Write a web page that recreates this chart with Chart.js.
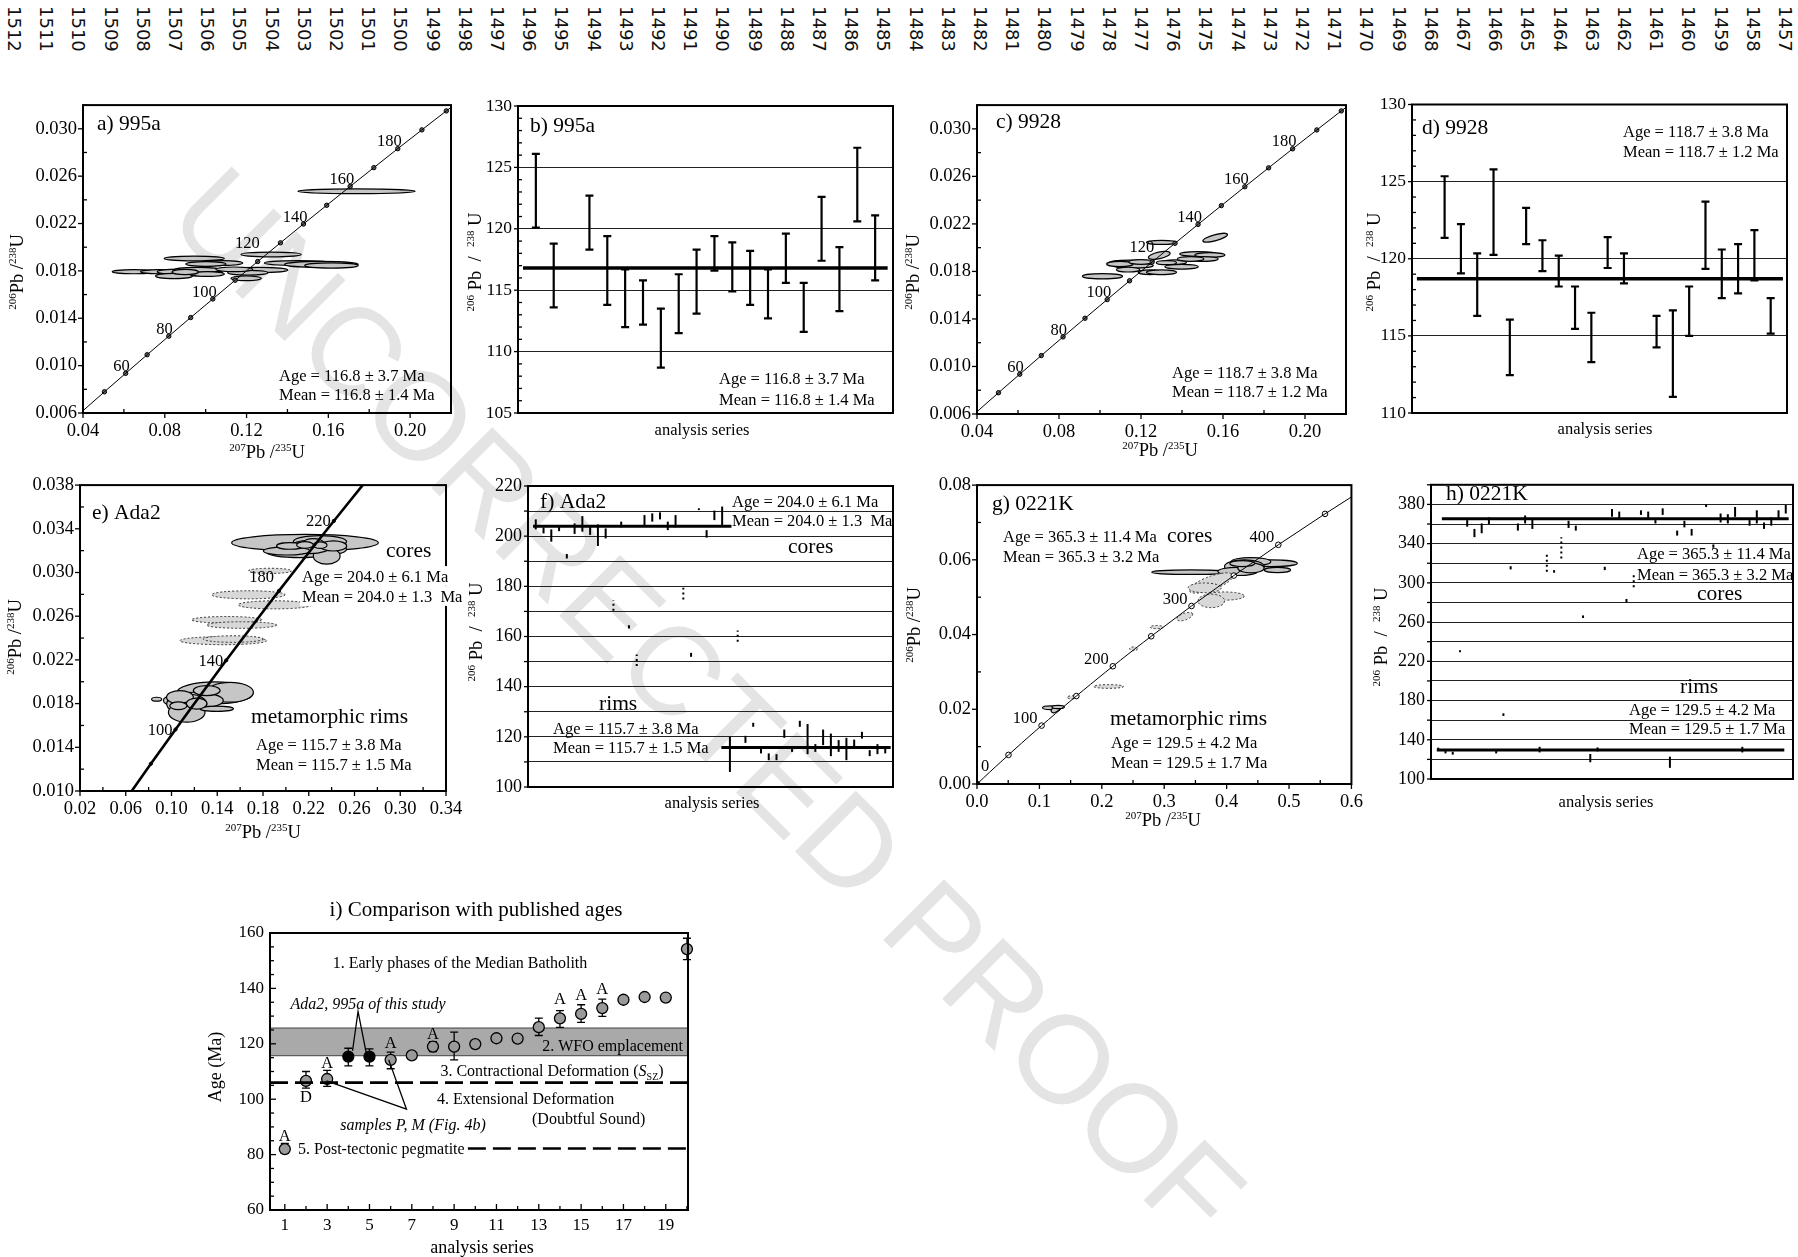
<!DOCTYPE html>
<html>
<head>
<meta charset="utf-8">
<title>U-Pb concordia and age panels</title>
<script src="https://cdn.jsdelivr.net/npm/chart.js@4.4.1/dist/chart.umd.min.js"></script>
<style>
  body { margin: 0; background: #fff; }
  #page { position: relative; width: 1798px; height: 1257px; overflow: hidden; background: #fff; }
  #page canvas { position: absolute; }
  .pnum { position: absolute; top: 6px; writing-mode: vertical-rl; font: 18px "DejaVu Sans", sans-serif; color: #111; line-height: 1; }
  #wm { position: absolute; left: 708px; top: 703px; transform: translate(-50%, -50%) rotate(45deg);
        font: 125px "Liberation Sans", sans-serif; color: #e4e4e4; white-space: nowrap; line-height: 1; }
</style>
</head>
<body>
<div id="page"><div id="wm">UNCORRECTED PROOF</div></div>
<script>
// concordia reference points: age (Ma), 207Pb/235U, 206Pb/238U
const concAge = [0, 10, 20, 30, 40, 50, 60, 70, 80, 90, 100, 110, 120, 130, 140, 150, 160, 170, 180, 190, 200, 210, 220, 230, 240, 250, 300, 350, 400, 450, 480];
const conc207 = [0, 0.00990, 0.01989, 0.02999, 0.04018, 0.05048, 0.06087, 0.07137, 0.08197, 0.09268, 0.10350, 0.11442, 0.12545, 0.13659, 0.14784, 0.15920, 0.17067, 0.18226, 0.19396, 0.20577, 0.21771, 0.22976, 0.24193, 0.25422, 0.26664, 0.27917, 0.34374, 0.41156, 0.48281, 0.55766, 0.60436];
const conc206 = [0, 0.00155, 0.00311, 0.00466, 0.00622, 0.00779, 0.00935, 0.01092, 0.01249, 0.01406, 0.01563, 0.01721, 0.01879, 0.02037, 0.02196, 0.02354, 0.02513, 0.02672, 0.02832, 0.02991, 0.03151, 0.03311, 0.03472, 0.03632, 0.03793, 0.03954, 0.04764, 0.05579, 0.06402, 0.07230, 0.07730];

// error ellipses: [207/235, 206/238, half-width, half-height, tilt deg]
const ell995a = [
  [0.1738, 0.02472, 0.0287, 0.0002], [0.0944, 0.01905, 0.0147, 0.0002], [0.1320, 0.01939, 0.0147, 0.0002],
  [0.1083, 0.01866, 0.0098, 0.0002], [0.1001, 0.01858, 0.0098, 0.0002], [0.1451, 0.01866, 0.0164, 0.0002],
  [0.1566, 0.01855, 0.0180, 0.00025], [0.1615, 0.01846, 0.0131, 0.00022], [0.0649, 0.01793, 0.0106, 0.00017],
  [0.0772, 0.01793, 0.0090, 0.00017], [0.0878, 0.01793, 0.0115, 0.00022], [0.0976, 0.01785, 0.0106, 0.00028],
  [0.0960, 0.01807, 0.0115, 0.00022], [0.0845, 0.01757, 0.0090, 0.00022], [0.1255, 0.01807, 0.0147, 0.00022],
  [0.1206, 0.01785, 0.0098, 0.0002], [0.1140, 0.01813, 0.0090, 0.0002], [0.1198, 0.01737, 0.0074, 0.0002],
  [0.1009, 0.01773, 0.0082, 0.0002], [0.0900, 0.01790, 0.0065, 0.00022]
];
const ell9928 = [
  [0.1012, 0.01759, 0.0098, 0.00022], [0.1300, 0.02044, 0.0073, 0.00017], [0.1289, 0.01935, 0.0054, 0.00028, -12],
  [0.1562, 0.02084, 0.0062, 0.00025, -15], [0.1145, 0.01874, 0.0098, 0.00022], [0.1162, 0.01849, 0.0098, 0.00022],
  [0.1137, 0.01815, 0.0057, 0.0002], [0.1243, 0.01793, 0.0057, 0.0002], [0.1300, 0.01793, 0.0073, 0.0002],
  [0.1365, 0.01877, 0.0057, 0.0002], [0.1398, 0.01840, 0.0081, 0.0002], [0.1479, 0.01947, 0.0090, 0.0002],
  [0.1536, 0.01938, 0.0073, 0.0002], [0.1503, 0.01905, 0.0073, 0.0002], [0.1442, 0.01905, 0.0065, 0.0002],
  [0.1324, 0.01874, 0.0049, 0.00017], [0.1097, 0.01863, 0.0065, 0.00022], [0.1200, 0.01880, 0.0060, 0.0002]
];
const ellAda2Cores = [
  [0.2167, 0.03273, 0.0641, 0.00076], [0.2298, 0.03283, 0.0233, 0.00055], [0.2269, 0.03213, 0.0262, 0.00061],
  [0.2124, 0.03182, 0.0291, 0.00046], [0.2357, 0.03152, 0.0117, 0.00076], [0.2211, 0.03234, 0.0175, 0.00061],
  [0.2007, 0.03197, 0.0204, 0.00037], [0.2036, 0.03243, 0.0117, 0.0003], [0.2415, 0.03243, 0.0117, 0.00046],
  [0.2240, 0.03273, 0.0087, 0.00037], [0.2167, 0.03252, 0.0073, 0.0003], [0.2300, 0.03250, 0.0060, 0.0003]
];
const ellAda2Disc = [
  [0.1861, 0.03015, 0.0189, 0.00024], [0.1672, 0.02796, 0.0321, 0.00037], [0.1905, 0.02704, 0.0321, 0.00037],
  [0.1482, 0.02567, 0.0306, 0.0003], [0.1614, 0.02519, 0.0306, 0.0003], [0.1453, 0.02376, 0.0379, 0.00037],
  [0.1541, 0.02391, 0.0262, 0.0003]
];
const ellAda2Rims = [
  [0.1380, 0.01898, 0.0335, 0.0010], [0.1512, 0.01904, 0.0204, 0.00091], [0.1191, 0.01828, 0.0262, 0.00076],
  [0.1133, 0.01797, 0.0175, 0.00091], [0.1074, 0.01858, 0.0117, 0.00061], [0.0870, 0.01840, 0.0044, 0.00018],
  [0.1133, 0.01721, 0.0160, 0.00091], [0.1395, 0.01752, 0.0146, 0.00024], [0.1308, 0.01919, 0.0117, 0.00046],
  [0.1220, 0.01800, 0.0090, 0.0005], [0.1060, 0.01780, 0.0075, 0.00035]
];
const ell0221KCores = [
  [0.3436, 0.0567, 0.0636, 0.0006], [0.4708, 0.0591, 0.0424, 0.0009], [0.4390, 0.0595, 0.0318, 0.0011],
  [0.4284, 0.0582, 0.0318, 0.0018], [0.4178, 0.0569, 0.0318, 0.0011], [0.4814, 0.0573, 0.0212, 0.0007],
  [0.4390, 0.0578, 0.0212, 0.0013], [0.4250, 0.0590, 0.0200, 0.0008]
];
const ell0221KDisc = [
  [0.3754, 0.0538, 0.0371, 0.0018, -20], [0.3648, 0.0525, 0.0265, 0.0013], [0.3966, 0.0503, 0.0318, 0.0011],
  [0.3754, 0.0490, 0.0212, 0.0018], [0.3330, 0.0448, 0.0133, 0.0009, -20], [0.2879, 0.0420, 0.0106, 0.0004],
  [0.2508, 0.0362, 0.0064, 0.0005], [0.2110, 0.0261, 0.0239, 0.0005], [0.1527, 0.0232, 0.0080, 0.0004]
];
const ell0221KRims = [
  [0.1182, 0.0204, 0.0133, 0.0005], [0.1262, 0.0200, 0.0080, 0.0007, -30], [0.1300, 0.0206, 0.0100, 0.0004]
];

// 206Pb/238U ages per analysis (Ma)
const bSeries = [1, 2, 4, 5, 6, 7, 8, 9, 10, 11, 12, 13, 14, 15, 16, 17, 18, 19, 20];
const bLow  = [120.1, 113.6, 118.3, 113.8, 112.0, 112.2, 108.7, 111.5, 113.1, 116.6, 114.9, 113.8, 112.7, 115.6, 111.6, 117.4, 113.3, 120.6, 115.8];
const bHigh = [126.1, 118.8, 122.7, 119.4, 116.7, 115.8, 113.5, 116.3, 118.3, 119.4, 118.9, 118.2, 116.7, 119.6, 115.6, 122.6, 118.5, 126.6, 121.1];
const bMean = 116.8;

const dSeries = [2, 3, 4, 5, 6, 7, 8, 9, 10, 11, 12, 13, 15, 16, 17, 18, 19, 20, 21, 22];
const dLow  = [121.35, 119.05, 116.3, 120.25, 112.45, 120.95, 119.2, 118.2, 115.45, 113.3, 119.4, 118.4, 114.25, 111.05, 115.0, 119.35, 117.45, 117.75, 118.6, 115.15];
const dHigh = [125.35, 122.25, 120.35, 125.8, 116.05, 123.3, 121.2, 120.2, 118.2, 116.5, 121.4, 120.35, 116.3, 116.65, 118.2, 123.7, 120.6, 120.95, 121.85, 117.45];
const dMean = 118.7;

const fCoreSeries = [1, 2, 3, 4, 5, 6, 7, 8, 9, 10, 12, 13, 15, 16, 17, 18, 19, 21, 22, 23, 24, 25];
const fCoreLow  = [202.7, 201.1, 197.8, 202.0, 191.1, 200.9, 201.8, 200.5, 196.1, 199.1, 203.5, 163.2, 203.8, 205.8, 206.7, 202.4, 203.5, 151.9, 210.4, 199.4, 206.4, 204.4];
const fCoreHigh = [206.7, 203.5, 202.7, 204.0, 192.9, 205.1, 208.0, 203.8, 204.7, 203.1, 205.8, 164.5, 208.4, 209.1, 209.5, 205.8, 208.4, 153.5, 211.1, 202.4, 210.2, 211.8];
const fDiscSeries = [11, 14, 20, 27];
const fDiscLow  = [170.3, 148.2, 174.8, 157.9];
const fDiscHigh = [174.5, 152.8, 179.4, 162.4];
const fRimSeries = [26, 28, 29, 30, 31, 32, 33, 34, 35, 36, 37, 38, 39, 40, 41, 42, 43, 44, 45, 46];
const fRimLow  = [106.0, 117.6, 124.0, 113.4, 110.7, 110.7, 119.6, 114.0, 124.0, 113.1, 114.0, 116.7, 112.3, 114.0, 110.7, 116.0, 119.3, 112.3, 113.1, 113.4];
const fRimHigh = [120.0, 120.4, 125.6, 116.3, 113.4, 113.1, 122.9, 116.0, 126.4, 125.1, 117.1, 122.9, 121.3, 118.7, 119.6, 118.9, 122.0, 114.7, 117.1, 116.3];
const fCoreMean = 204.0, fRimMean = 115.7;

const hSeries = [1, 2, 3, 4, 5, 6, 7, 8, 9, 10, 11, 12, 13, 14, 15, 17, 19, 20, 21, 22, 23, 24, 25, 26, 27, 29, 30, 31, 32, 33, 34, 35, 36, 38, 39, 40, 41, 42, 43, 44, 45, 46, 47, 48, 49];
const hLow  = [128.8, 126.1, 124.8, 229.3, 357.3, 346.6, 350.6, 360.0, 126.1, 164.3, 313.7, 353.3, 360.6, 355.0, 127.1, 310.4, 356.0, 353.3, 264.2, 117.1, 128.1, 313.0, 367.3, 366.0, 280.2, 369.3, 365.0, 360.6, 369.3, 111.4, 348.2, 356.6, 348.2, 377.4, 335.8, 361.6, 360.6, 367.3, 127.1, 358.3, 360.6, 355.0, 358.3, 366.0, 370.7];
const hHigh = [132.0, 128.8, 127.8, 231.3, 364.0, 355.0, 360.6, 366.7, 130.5, 167.0, 317.0, 360.6, 368.7, 365.0, 132.8, 313.0, 363.3, 358.3, 266.8, 125.5, 132.2, 316.4, 375.4, 372.7, 283.6, 374.0, 372.7, 364.0, 376.0, 122.8, 353.3, 363.3, 355.0, 380.0, 339.2, 370.7, 370.0, 377.4, 132.8, 364.0, 374.0, 361.6, 366.7, 374.0, 379.4];
const hDiscSeries = [16, 18, 28];
const hDiscLow  = [311.4, 324.8, 295.6];
const hDiscHigh = [331.5, 346.6, 309.7];
const hCoreMean = 365.3, hRimMean = 129.5;

// panel i: published ages
const iSeries = [1, 2, 3, 4, 5, 6, 7, 8, 9, 10, 11, 12, 13, 14, 15, 16, 17, 18, 19, 20];
const iAge  = [82.0, 106.6, 107.3, 115.4, 115.4, 114.2, 115.8, 119.0, 119.0, 119.9, 122.0, 121.9, 126.0, 129.2, 130.8, 132.9, 135.9, 136.9, 136.7, 154.2];
const iLow  = [80.5, 104.0, 104.6, 112.0, 112.0, 111.0, null, 117.2, 114.2, null, null, null, 123.0, 125.9, 127.7, 129.9, null, null, null, 150.4];
const iHigh = [84.0, 110.0, 110.4, 118.4, 118.2, 117.0, null, 120.8, 124.2, null, null, null, 129.3, 132.0, 134.1, 136.1, null, null, null, 158.1];
const iThisStudy = [4, 5];
const iLetterSeries = [1, 2, 3, 6, 8, 14, 15, 16];
const iLetter = ['A', 'D', 'A', 'A', 'A', 'A', 'A', 'A'];
const iLetterAge = [87.1, 101.0, 113.3, 120.5, 123.6, 136.5, 138.0, 140.1];
const iWfo = [115.7, 125.7];
const iDeformAge = 106.0, iPegmatiteAge = 82.2;
const iAdaLeader = [[4.2, 117.5], [4.46, 131.7], [4.85, 116.5]];
const iPMLeader = [[2.97, 106.6], [6.75, 96.4], [5.91, 114.2]];

// tick values
const tA_x = [0.04, 0.08, 0.12, 0.16, 0.20], tA_xm = [0.06, 0.10, 0.14, 0.18, 0.22];
const tA_y = [0.006, 0.010, 0.014, 0.018, 0.022, 0.026, 0.030], tA_ym = [0.008, 0.012, 0.016, 0.020, 0.024, 0.028, 0.032];
const tB_y = [105, 110, 115, 120, 125, 130];
const tD_y = [110, 115, 120, 125, 130];
const tE_x = [0.02, 0.06, 0.10, 0.14, 0.18, 0.22, 0.26, 0.30, 0.34], tE_xm = [0.04, 0.08, 0.12, 0.16, 0.20, 0.24, 0.28, 0.32];
const tE_y = [0.010, 0.014, 0.018, 0.022, 0.026, 0.030, 0.034, 0.038], tE_ym = [0.012, 0.016, 0.020, 0.024, 0.028, 0.032, 0.036];
const tF_y = [100, 110, 120, 130, 140, 150, 160, 170, 180, 190, 200, 210, 220];
const tG_x = [0, 0.1, 0.2, 0.3, 0.4, 0.5, 0.6], tG_xm = [0.05, 0.15, 0.25, 0.35, 0.45, 0.55];
const tG_y = [0, 0.02, 0.04, 0.06, 0.08], tG_ym = [0.01, 0.03, 0.05, 0.07];
const tH_y = [100, 120, 140, 160, 180, 200, 220, 240, 260, 280, 300, 320, 340, 360, 380, 400];
const tI_x = [1, 3, 5, 7, 9, 11, 13, 15, 17, 19], tI_xm = [2, 4, 6, 8, 10, 12, 14, 16, 18, 20];
const tI_y = [60, 80, 100, 120, 140, 160], tI_ym = [65, 70, 75, 85, 90, 95, 105, 110, 115, 125, 130, 135, 145, 150, 155];

Chart.defaults.font.family = '"Liberation Serif", "Times New Roman", serif';
Chart.defaults.font.size = 17;
Chart.defaults.color = '#000';

const page = document.getElementById('page');

// page numbers along the top
for (let k = 0; k <= 55; k++) {
  const d = document.createElement('div');
  d.className = 'pnum';
  d.textContent = String(1512 - k);
  d.style.left = (5 + k * 32.2) + 'px';
  page.appendChild(d);
}

function parse(s) {
  const out = [], re = /\{([\^_\/])([^}]*)\}|([^{]+)/g;
  let m;
  while ((m = re.exec(s))) {
    if (m[3]) out.push({ t: m[3] });
    else out.push({ t: m[2], sup: m[1] === '^', sub: m[1] === '_', it: m[1] === '/' });
  }
  return out;
}

function drawRich(ctx, str, x, y, o) {
  o = o || {};
  const size = o.s || 16.5;
  const parts = parse(str);
  const fonts = parts.map(p => `${(p.it || o.it) ? 'italic ' : ''}${(p.sup || p.sub) ? Math.round(size * 0.62) : size}px "Liberation Serif"`);
  const ws = parts.map((p, i) => { ctx.font = fonts[i]; return ctx.measureText(p.t).width; });
  const W = ws.reduce((s, w) => s + w, 0);
  ctx.save();
  ctx.translate(x, y);
  if (o.rot) ctx.rotate(o.rot * Math.PI / 180);
  let cx = o.a === 'center' ? -W / 2 : o.a === 'right' ? -W : 0;
  if (o.bg) { ctx.fillStyle = '#fff'; ctx.fillRect(cx - 2, -size * 0.6, W + 4, size * 1.2); }
  ctx.fillStyle = '#000';
  ctx.textAlign = 'left';
  ctx.textBaseline = 'alphabetic';
  parts.forEach((p, i) => {
    ctx.font = fonts[i];
    const dy = p.sup ? -size * 0.4 : p.sub ? size * 0.22 : 0;
    ctx.fillText(p.t, cx, size * 0.34 + dy);
    cx += ws[i];
  });
  ctx.restore();
}

// draws ellipses, error bars, frame, ticks and text for one panel
function deco(spec) {
  return {
    id: 'deco',
    beforeDatasetsDraw(chart) {
      const { ctx, chartArea: ca } = chart, sx = chart.scales.x, sy = chart.scales.y;
      ctx.save();
      ctx.beginPath();
      ctx.rect(ca.left, ca.top, ca.right - ca.left, ca.bottom - ca.top);
      ctx.clip();
      (spec.bands || []).forEach(b => {
        const y1 = sy.getPixelForValue(b[0]), y2 = sy.getPixelForValue(b[1]);
        ctx.fillStyle = '#a9a9a9';
        ctx.fillRect(ca.left, y2, ca.right - ca.left, y1 - y2);
        ctx.strokeStyle = '#444'; ctx.lineWidth = 1;
        ctx.strokeRect(ca.left, y2, ca.right - ca.left, y1 - y2);
      });
      (spec.ellipses || []).forEach(g => {
        g.list.forEach(e => {
          const px = sx.getPixelForValue(e[0]), py = sy.getPixelForValue(e[1]);
          const rx = Math.abs(sx.getPixelForValue(e[0] + e[2]) - px);
          const ry = Math.abs(sy.getPixelForValue(e[1] + e[3]) - py);
          ctx.beginPath();
          ctx.ellipse(px, py, rx, Math.max(ry, 1.6), (e[4] || 0) * Math.PI / 180, 0, Math.PI * 2);
          ctx.setLineDash(g.dashed ? [2, 2] : []);
          ctx.fillStyle = g.dashed ? '#d8d8d8' : '#c6c6c6';
          ctx.fill();
          ctx.lineWidth = g.dashed ? 1 : 1.2;
          ctx.strokeStyle = g.dashed ? '#333' : '#000';
          ctx.stroke();
        });
      });
      ctx.restore();
      ctx.save();
      (spec.errs || []).forEach(g => {
        ctx.strokeStyle = '#000';
        ctx.lineWidth = g.lw || 2;
        g.x.forEach((xv, i) => {
          const lo = g.lo[i], hi = g.hi[i];
          if (lo == null) return;
          const px = sx.getPixelForValue(xv), p1 = sy.getPixelForValue(lo), p2 = sy.getPixelForValue(hi);
          ctx.setLineDash(g.dash || []);
          ctx.beginPath(); ctx.moveTo(px, p1); ctx.lineTo(px, p2); ctx.stroke();
          if (g.cap) {
            ctx.setLineDash([]);
            ctx.beginPath();
            ctx.moveTo(px - g.cap, p1); ctx.lineTo(px + g.cap, p1);
            ctx.moveTo(px - g.cap, p2); ctx.lineTo(px + g.cap, p2);
            ctx.stroke();
          }
        });
      });
      ctx.restore();
    },
    afterDraw(chart) {
      const { ctx, chartArea: ca } = chart, sx = chart.scales.x, sy = chart.scales.y;
      ctx.save();
      ctx.setLineDash([]);
      ctx.strokeStyle = '#000';
      ctx.lineWidth = 2;
      ctx.strokeRect(ca.left, ca.top, ca.right - ca.left, ca.bottom - ca.top);
      ctx.lineWidth = 1.3;
      const tk = spec.tick || {};
      const tickX = (vals, len) => vals.forEach(v => {
        const p = sx.getPixelForValue(v);
        ctx.beginPath(); ctx.moveTo(p, ca.bottom); ctx.lineTo(p, ca.bottom + len); ctx.stroke();
      });
      const tickY = (vals, len) => vals.forEach(v => {
        const p = sy.getPixelForValue(v);
        ctx.beginPath(); ctx.moveTo(ca.left, p); ctx.lineTo(ca.left - len, p); ctx.stroke();
      });
      if (tk.xMaj) tickX(sx.ticks.map(t => t.value), tk.xMaj);
      if (tk.yMaj) tickY(sy.ticks.map(t => t.value), tk.yMaj);
      if (tk.xMin) tickX(tk.xMin, tk.minLen || -4);
      if (tk.yMin) tickY(tk.yMin, tk.minLen || -4);
      // concordia age labels
      if (spec.conc) {
        const c = spec.conc;
        c.ages.forEach(age => {
          const k = concAge.indexOf(age);
          const px = sx.getPixelForValue(conc207[k]), py = sy.getPixelForValue(conc206[k]);
          const ov = (c.over || {})[age] || [c.dx, c.dy, c.a];
          drawRich(ctx, String(age), px + ov[0], py + ov[1], { s: 16.5, a: ov[2] });
        });
      }
      if (spec.letters) {
        const L = spec.letters;
        L.x.forEach((xv, i) => drawRich(ctx, L.t[i], sx.getPixelForValue(xv), sy.getPixelForValue(L.y[i]), { s: 16.5, a: 'center' }));
      }
      (spec.texts || []).forEach(t => {
        drawRich(ctx, t[0], t[1] - spec.ox, t[2] - spec.oy, t[3]);
      });
      ctx.restore();
    }
  };
}

function axis(c, fit) {
  return {
    type: 'linear', min: c.min, max: c.max, display: true,
    afterBuildTicks: s => { s.ticks = (c.ticks || []).map(v => ({ value: v })); },
    afterFit: fit,
    grid: { display: !!c.grid, drawOnChartArea: !!c.grid, drawTicks: false, color: '#222', lineWidth: 1 },
    border: { display: false },
    ticks: {
      display: !!(c.ticks && c.ticks.length), padding: c.pad == null ? 7 : c.pad,
      font: { size: c.size || 18.5 }, maxRotation: 0, autoSkip: false,
      callback: c.fmt || (v => String(v))
    }
  };
}

function panel(box, plot, xc, yc, datasets, spec) {
  const [bx, by, bw, bh] = box, [pl, pt, pr, pb] = plot;
  const cv = document.createElement('canvas');
  cv.width = bw; cv.height = bh;
  cv.style.left = bx + 'px'; cv.style.top = by + 'px';
  cv.style.width = bw + 'px'; cv.style.height = bh + 'px';
  page.appendChild(cv);
  spec.ox = bx; spec.oy = by;
  return new Chart(cv, {
    type: 'scatter',
    data: { datasets },
    options: {
      responsive: false, animation: false, events: [],
      layout: { autoPadding: false, padding: { left: 0, top: pt - by, right: bx + bw - pr, bottom: 0 } },
      plugins: { legend: { display: false }, tooltip: { enabled: false } },
      scales: {
        x: axis(xc, s => { s.height = by + bh - pb; }),
        y: axis(yc, s => { s.width = pl - bx; })
      }
    },
    plugins: [deco(spec)]
  });
}

function concPts(a0, a1, step) {
  const out = [];
  concAge.forEach((t, k) => {
    if (t >= a0 && t <= a1 && (!step || t % step === 0)) out.push({ x: conc207[k], y: conc206[k] });
  });
  return out;
}
function lineDs(pts, o) {
  o = o || {};
  return { data: pts, showLine: true, borderColor: '#000', borderWidth: o.bw || 1, pointRadius: 0, borderDash: o.dash || [] };
}
function markDs(pts, o) {
  return { data: pts, showLine: false, pointRadius: o.r, pointBackgroundColor: o.fill, pointBorderColor: '#000', pointBorderWidth: o.pbw || 1 };
}
function meanDs(x0, x1, y, bw) {
  return lineDs([{ x: x0, y }, { x: x1, y }], { bw });
}

const f3 = v => v.toFixed(3), f2 = v => v.toFixed(2), f1 = v => v.toFixed(1);
const yTitleA = '{^206}Pb /{^238}U', xTitleA = '{^207}Pb /{^235}U', yTitleB = '{^206} Pb  /  {^238} U';

// a) 995a concordia
panel([0, 88, 470, 380], [83, 104, 451, 413],
  { min: 0.04, max: 0.22, ticks: tA_x, fmt: f2 },
  { min: 0.006, max: 0.032, ticks: tA_y, fmt: f3, pad: 6 },
  [lineDs(concPts(30, 210)), markDs(concPts(50, 200), { r: 2.2, fill: '#666' })],
  { ellipses: [{ list: ell995a }],
    tick: { xMaj: 5, yMaj: 5, xMin: tA_xm, yMin: tA_ym },
    conc: { ages: [60, 80, 100, 120, 140, 160, 180], dx: 4, dy: -8, a: 'right', over: { 120: [2, -19, 'right'] } },
    texts: [
      ['a) 995a', 97, 123, { s: 21.5 }],
      ['Age = 116.8 ± 3.7 Ma', 279, 375],
      ['Mean = 116.8 ± 1.4 Ma', 279, 394],
      [yTitleA, 17, 272, { s: 18.5, a: 'center', rot: -90 }],
      [xTitleA, 267, 452, { s: 18.5, a: 'center' }]
    ] });

// b) 995a ages
panel([462, 88, 450, 380], [518, 106, 893, 413],
  { min: 0, max: 21 },
  { min: 105, max: 130, ticks: tB_y, grid: true, pad: 6, size: 17.5 },
  [meanDs(0.28, 20.7, bMean, 3.5)],
  { errs: [{ x: bSeries, lo: bLow, hi: bHigh, lw: 2.2, cap: 4 }],
    tick: { yMaj: 4, yMin: [106, 107, 108, 109, 111, 112, 113, 114, 116, 117, 118, 119, 121, 122, 123, 124, 126, 127, 128, 129] },
    texts: [
      ['b) 995a', 530, 125, { s: 21.5 }],
      ['Age = 116.8 ± 3.7 Ma', 719, 378],
      ['Mean = 116.8 ± 1.4 Ma', 719, 399],
      [yTitleB, 475, 262, { s: 18.5, a: 'center', rot: -90 }],
      ['analysis series', 702, 429, { s: 16.5, a: 'center' }]
    ] });

// c) 9928 concordia
panel([900, 88, 460, 380], [977, 104, 1346, 414],
  { min: 0.04, max: 0.22, ticks: tA_x, fmt: f2 },
  { min: 0.006, max: 0.032, ticks: tA_y, fmt: f3, pad: 6 },
  [lineDs(concPts(30, 210)), markDs(concPts(50, 200), { r: 2.2, fill: '#666' })],
  { ellipses: [{ list: ell9928 }],
    tick: { xMaj: 5, yMaj: 5, xMin: tA_xm, yMin: tA_ym },
    conc: { ages: [60, 80, 100, 120, 140, 160, 180], dx: 4, dy: -8, a: 'right', over: { 120: [2, -16, 'right'] } },
    texts: [
      ['c) 9928', 996, 121, { s: 21.5 }],
      ['Age = 118.7 ± 3.8 Ma', 1172, 372],
      ['Mean = 118.7 ± 1.2 Ma', 1172, 391],
      [yTitleA, 913, 272, { s: 18.5, a: 'center', rot: -90 }],
      [xTitleA, 1160, 450, { s: 18.5, a: 'center' }]
    ] });

// d) 9928 ages
panel([1355, 88, 443, 380], [1412, 104, 1787, 413],
  { min: 0, max: 23 },
  { min: 110, max: 130, ticks: tD_y, grid: true, pad: 6, size: 17.5 },
  [meanDs(0.3, 22.75, dMean, 3.5)],
  { errs: [{ x: dSeries, lo: dLow, hi: dHigh, lw: 2.2, cap: 4 }],
    tick: { yMaj: 4, yMin: [111, 112, 113, 114, 116, 117, 118, 119, 121, 122, 123, 124, 126, 127, 128, 129] },
    texts: [
      ['d) 9928', 1422, 127, { s: 21.5 }],
      ['Age = 118.7 ± 3.8 Ma', 1623, 131],
      ['Mean = 118.7 ± 1.2 Ma', 1623, 151],
      [yTitleB, 1374, 262, { s: 18.5, a: 'center', rot: -90 }],
      ['analysis series', 1605, 428, { s: 16.5, a: 'center' }]
    ] });

// e) Ada2 concordia
panel([0, 468, 470, 385], [80, 484, 446, 791],
  { min: 0.02, max: 0.34, ticks: tE_x, fmt: f2 },
  { min: 0.010, max: 0.038, ticks: tE_y, fmt: f3, pad: 6 },
  [lineDs(concPts(50, 250), { bw: 2.6 }), markDs([80, 100, 140, 180, 220].map(a => ({ x: conc207[concAge.indexOf(a)], y: conc206[concAge.indexOf(a)] })), { r: 1.6, fill: '#000' })],
  { ellipses: [{ list: ellAda2Cores }, { list: ellAda2Disc, dashed: true }, { list: ellAda2Rims }],
    tick: { xMaj: 5, yMaj: 5, xMin: tE_xm, yMin: tE_ym },
    conc: { ages: [100, 140, 180, 220], dx: -3, dy: 0, a: 'right', over: { 180: [-5, -14, 'right'], 220: [-3, -1, 'right'] } },
    texts: [
      ['e) Ada2', 92, 512, { s: 21.5 }],
      ['cores', 386, 550, { s: 21.5 }],
      ['Age = 204.0 ± 6.1 Ma', 302, 576, { bg: 1 }],
      ['Mean = 204.0 ± 1.3  Ma', 302, 596, { bg: 1 }],
      ['metamorphic rims', 251, 716, { s: 21.5 }],
      ['Age = 115.7 ± 3.8 Ma', 256, 744],
      ['Mean = 115.7 ± 1.5 Ma', 256, 764],
      [yTitleA, 15, 637, { s: 18.5, a: 'center', rot: -90 }],
      [xTitleA, 263, 832, { s: 18.5, a: 'center' }]
    ] });

// f) Ada2 ages
panel([462, 468, 450, 385], [528, 486, 893, 787],
  { min: 0, max: 47 },
  { min: 100, max: 220, ticks: tF_y, grid: true, pad: 6, size: 18, fmt: v => (v % 20 === 0 ? String(v) : '') },
  [meanDs(0.65, 26.2, fCoreMean, 3), meanDs(24.9, 46.7, fRimMean, 3)],
  { errs: [
      { x: fCoreSeries, lo: fCoreLow, hi: fCoreHigh, lw: 2 },
      { x: fDiscSeries, lo: fDiscLow, hi: fDiscHigh, lw: 2, dash: [2, 3] },
      { x: fRimSeries, lo: fRimLow, hi: fRimHigh, lw: 2 }
    ],
    tick: { yMaj: 4 },
    texts: [
      ['f) Ada2', 540, 501, { s: 21.5 }],
      ['Age = 204.0 ± 6.1 Ma', 732, 501],
      ['Mean = 204.0 ± 1.3  Ma', 732, 520],
      ['cores', 788, 546, { s: 21.5 }],
      ['rims', 599, 703, { s: 21.5 }],
      ['Age = 115.7 ± 3.8 Ma', 553, 728],
      ['Mean = 115.7 ± 1.5 Ma', 553, 747],
      [yTitleB, 476, 632, { s: 18.5, a: 'center', rot: -90 }],
      ['analysis series', 712, 802, { s: 16.5, a: 'center' }]
    ] });

// g) 0221K concordia
panel([900, 468, 470, 385], [977, 481, 1354, 784],
  { min: 0, max: 0.6, ticks: tG_x, fmt: f1 },
  { min: 0, max: 0.08, ticks: tG_y, fmt: f2, pad: 6 },
  [lineDs(concPts(0, 480)), markDs(concPts(0, 450, 50), { r: 2.8, fill: '#fff' })],
  { ellipses: [{ list: ell0221KCores }, { list: ell0221KDisc, dashed: true }, { list: ell0221KRims }],
    tick: { xMaj: 5, yMaj: 5, xMin: tG_xm, yMin: tG_ym },
    conc: { ages: [0, 100, 200, 300, 400], dx: -4, dy: -8, a: 'right', over: { 0: [4, -19, 'left'] } },
    texts: [
      ['g) 0221K', 992, 503, { s: 21.5 }],
      ['Age = 365.3 ± 11.4 Ma', 1003, 536],
      ['Mean = 365.3 ± 3.2 Ma', 1003, 556],
      ['cores', 1167, 535, { s: 21.5 }],
      ['metamorphic rims', 1110, 718, { s: 21.5 }],
      ['Age = 129.5 ± 4.2 Ma', 1111, 742],
      ['Mean = 129.5 ± 1.7 Ma', 1111, 762],
      [yTitleA, 914, 625, { s: 18.5, a: 'center', rot: -90 }],
      [xTitleA, 1163, 820, { s: 18.5, a: 'center' }]
    ] });

// h) 0221K ages
panel([1362, 468, 436, 385], [1431, 481, 1793, 779],
  { min: 0, max: 50 },
  { min: 100, max: 400, ticks: tH_y, grid: true, pad: 6, size: 18, fmt: v => ((v - 100) % 40 === 0 && v < 400 ? String(v) : '') },
  [meanDs(1.5, 49.4, hCoreMean, 3), meanDs(0.8, 48.8, hRimMean, 3)],
  { errs: [
      { x: hSeries, lo: hLow, hi: hHigh, lw: 2 },
      { x: hDiscSeries, lo: hDiscLow, hi: hDiscHigh, lw: 2, dash: [2, 3] }
    ],
    tick: { yMaj: 4 },
    texts: [
      ['h) 0221K', 1446, 493, { s: 21.5 }],
      ['Age = 365.3 ± 11.4 Ma', 1637, 553],
      ['Mean = 365.3 ± 3.2 Ma', 1637, 574],
      ['cores', 1697, 593, { s: 21.5 }],
      ['rims', 1680, 686, { s: 21.5 }],
      ['Age = 129.5 ± 4.2 Ma', 1629, 709],
      ['Mean = 129.5 ± 1.7 Ma', 1629, 728],
      [yTitleB, 1381, 637, { s: 18.5, a: 'center', rot: -90 }],
      ['analysis series', 1606, 801, { s: 16.5, a: 'center' }]
    ] });

// i) comparison with published ages
const iPts = iSeries.map((x, k) => ({ x, y: iAge[k] }));
panel([190, 880, 540, 377], [270, 933, 688, 1210],
  { min: 0.3, max: 20.05, ticks: tI_x, pad: 5, size: 17 },
  { min: 60, max: 160, ticks: tI_y, pad: 6, size: 17 },
  [
    lineDs([{ x: 0.3, y: iDeformAge }, { x: 20.05, y: iDeformAge }], { bw: 2.6, dash: [18, 7] }),
    lineDs([{ x: 9.65, y: iPegmatiteAge }, { x: 20.05, y: iPegmatiteAge }], { bw: 2.6, dash: [18, 7] }),
    lineDs(iAdaLeader.map(p => ({ x: p[0], y: p[1] })), { bw: 1.3 }),
    lineDs(iPMLeader.map(p => ({ x: p[0], y: p[1] })), { bw: 1.3 }),
    Object.assign(markDs(iPts.filter(p => !iThisStudy.includes(p.x)), { r: 5.5, fill: '#9a9a9a', pbw: 1.3 }), { clip: false }),
    markDs(iPts.filter(p => iThisStudy.includes(p.x)), { r: 5.5, fill: '#000', pbw: 1.3 })
  ],
  { bands: [iWfo],
    errs: [{ x: iSeries, lo: iLow, hi: iHigh, lw: 1.3, cap: 4 }],
    tick: { xMaj: -6, yMaj: -6, xMin: tI_xm, yMin: tI_ym, minLen: -4 },
    letters: { x: iLetterSeries, y: iLetterAge, t: iLetter },
    texts: [
      ['i) Comparison with published ages', 476, 909, { s: 21, a: 'center' }],
      ['Age (Ma)', 215, 1067, { s: 18, a: 'center', rot: -90 }],
      ['analysis series', 482, 1247, { s: 18, a: 'center' }],
      ['1. Early phases of the Median Batholith', 460, 963, { s: 16, a: 'center' }],
      ['Ada2, 995a of this study', 368, 1004, { s: 16, a: 'center', it: 1 }],
      ['2. WFO emplacement', 683, 1046, { s: 16, a: 'right' }],
      ['3. Contractional Deformation ({/S}{_SZ})', 552, 1071, { s: 16, a: 'center' }],
      ['4. Extensional Deformation', 437, 1099, { s: 16 }],
      ['(Doubtful Sound)', 532, 1119, { s: 16 }],
      ['samples P, M (Fig. 4b)', 413, 1125, { s: 16, a: 'center', it: 1 }],
      ['5. Post-tectonic pegmatite', 298, 1149, { s: 16 }]
    ] });
</script>
</body>
</html>
